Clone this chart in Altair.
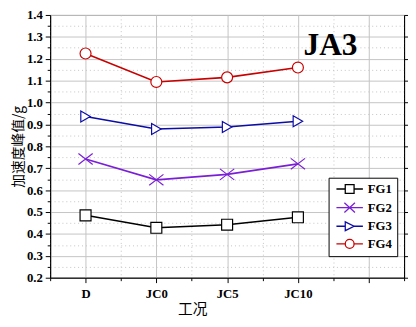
import altair as alt
import pandas as pd

categories = ["D", "JC0", "JC5", "JC10"]
series_names = ["FG1", "FG2", "FG3", "FG4"]
fg1 = [0.485, 0.428, 0.442, 0.476]
fg2 = [0.742, 0.647, 0.672, 0.720]
fg3 = [0.936, 0.879, 0.888, 0.915]
fg4 = [1.224, 1.094, 1.115, 1.160]
series_colors = ["#000000", "#7a1fd6", "#0c0ca6", "#c80000"]
marker_shapes = ["square", "M-1.3,-1L1.3,1M-1.3,1L1.3,-1", "triangle-right", "circle"]
legend_shapes = [
    "M-3,0H-1M1,0H3M-1,-1H1V1H-1Z",
    "M-3,0H3M-1.2,-1.1L1.2,1.1M-1.2,1.1L1.2,-1.1",
    "M-3,0H-1M1,0H3M-1,-1L1,0L-1,1Z",
    "M-3,0H-1M1,0H3M-1,0A1,1,0,1,0,1,0A1,1,0,1,0,-1,0Z",
]
y_major = [round(0.2 + 0.1 * i, 2) for i in range(13)]
y_minor = [round(0.25 + 0.1 * i, 2) for i in range(12)]
x_major = [0, 1, 2, 3, 4]
x_minor = [-0.5, 0.5, 1.5, 2.5, 3.5, 4.5]
panel_title = ["JA3"]
panel_title_pos_x = [3.46]
panel_title_pos_y = [1.262]
x_title = "工况"
y_title = "加速度峰值/g"

rows = []
for s, vals in zip(series_names, [fg1, fg2, fg3, fg4]):
    for i, (c, v) in enumerate(zip(categories, vals)):
        rows.append({"series": s, "idx": i, "cat": c, "value": v})
df = pd.DataFrame(rows)

cat_js = "[" + ",".join("'%s'" % c for c in categories) + "]"
GRID = "#c4c4c4"

x_axis = alt.Axis(
    orient="bottom", values=x_major,
    labelExpr=f"(datum.value >= 0 && datum.value <= {len(categories)-1}) ? {cat_js}[datum.value] : ''",
    labelOverlap=False, labelFlush=False, labelPadding=5,
    grid=True, gridColor=GRID, gridWidth=1, tickSize=5,
    title=x_title, titleFont="Noto Sans CJK SC", titleFontSize=15, titleFontWeight="normal",
    titleX=145, titlePadding=1,
)
y_axis = alt.Axis(
    orient="left", values=y_major, format=".1f",
    labelOverlap=False, labelFlush=False, labelPadding=3,
    grid=True, gridColor=GRID, gridWidth=1, tickSize=5,
    title=y_title, titleFont="Noto Sans CJK SC", titleFontSize=14, titleFontWeight="normal",
    titlePadding=1,
)
x_axis_minor = alt.Axis(orient="bottom", values=x_minor, labels=False, domain=False, title=None, tickSize=3,
                        grid=True, gridColor=GRID, gridDash=[1, 3], gridWidth=1)
y_axis_minor = alt.Axis(orient="left", values=y_minor, labels=False, domain=False, title=None, tickSize=3,
                        grid=True, gridColor=GRID, gridDash=[1, 3], gridWidth=1)

xs = alt.Scale(domain=[-0.5, 4.5], nice=False, zero=False)
ys = alt.Scale(domain=[0.2, 1.4], nice=False, zero=False)
cs = alt.Scale(domain=series_names, range=series_colors)

base = alt.Chart(df)

minor_grid = base.transform_filter("false").mark_point().encode(
    x=alt.X("idx:Q", scale=xs, axis=x_axis_minor),
    y=alt.Y("value:Q", scale=ys, axis=y_axis_minor),
)

lines = base.mark_line(strokeWidth=1.6).encode(
    x=alt.X("idx:Q", scale=xs, axis=x_axis),
    y=alt.Y("value:Q", scale=ys, axis=y_axis),
    color=alt.Color("series:N", scale=cs, legend=None),
)

points = base.mark_point(filled=False, fill="white", fillOpacity=1, opacity=1, size=125, strokeWidth=1.2).encode(
    x=alt.X("idx:Q", scale=xs, axis=None),
    y=alt.Y("value:Q", scale=ys, axis=None),
    color=alt.Color("series:N", scale=cs, legend=None),
    shape=alt.Shape("series:N", scale=alt.Scale(domain=series_names, range=marker_shapes), legend=None),
)

leg = alt.Legend(
    title=None, orient="none", legendX=284, legendY=166,
    strokeColor="black", fillColor="white", padding=5, cornerRadius=0,
    symbolSize=81, symbolStrokeWidth=1.3, symbolFillColor="white", symbolOpacity=1,
    symbolOffset=10, labelOffset=12, rowPadding=3,
    labelFont="Liberation Serif", labelFontWeight="bold", labelFontSize=13, labelColor="black",
)
legend_layer = base.transform_filter("false").mark_point(filled=False, fill="white").encode(
    x=alt.X("idx:Q", scale=xs, axis=None),
    y=alt.Y("value:Q", scale=ys, axis=None),
    color=alt.Color("series:N", scale=cs, legend=leg),
    shape=alt.Shape("series:N", scale=alt.Scale(domain=series_names, range=legend_shapes), legend=leg),
)

right_axis = base.transform_filter("false").mark_point().encode(
    x=alt.X("idx:Q", scale=xs, axis=None),
    y=alt.Y("value:Q", scale=ys, axis=alt.Axis(orient="right", values=y_major, labels=False, grid=False,
                                                 title=None, tickSize=4)),
)

label_df = pd.DataFrame({"text": panel_title, "x": panel_title_pos_x, "y": panel_title_pos_y})
label = alt.Chart(label_df).mark_text(font="Liberation Serif", fontSize=32, fontWeight="bold",
                                      color="black", baseline="middle", align="center").encode(
    x=alt.X("x:Q", scale=xs, axis=None),
    y=alt.Y("y:Q", scale=ys, axis=None),
    text="text:N",
)

chart = alt.layer(minor_grid, lines, points, legend_layer, right_axis, label).resolve_scale(
    color="independent", shape="independent"
).resolve_axis(y="independent", x="independent").properties(
    width=361, height=268,
    autosize=alt.AutoSizeParams(type="none"),
    padding={"left": 43, "top": 4, "right": 4, "bottom": 39},
).configure_axis(
    labelFont="Liberation Serif", labelFontWeight="bold", labelFontSize=13, labelColor="black",
    tickColor="black", domainColor="black", titleColor="black",
).configure_view(stroke="black", strokeWidth=1)

chart.save("out.html", embed_options={"renderer": "svg", "actions": False})
